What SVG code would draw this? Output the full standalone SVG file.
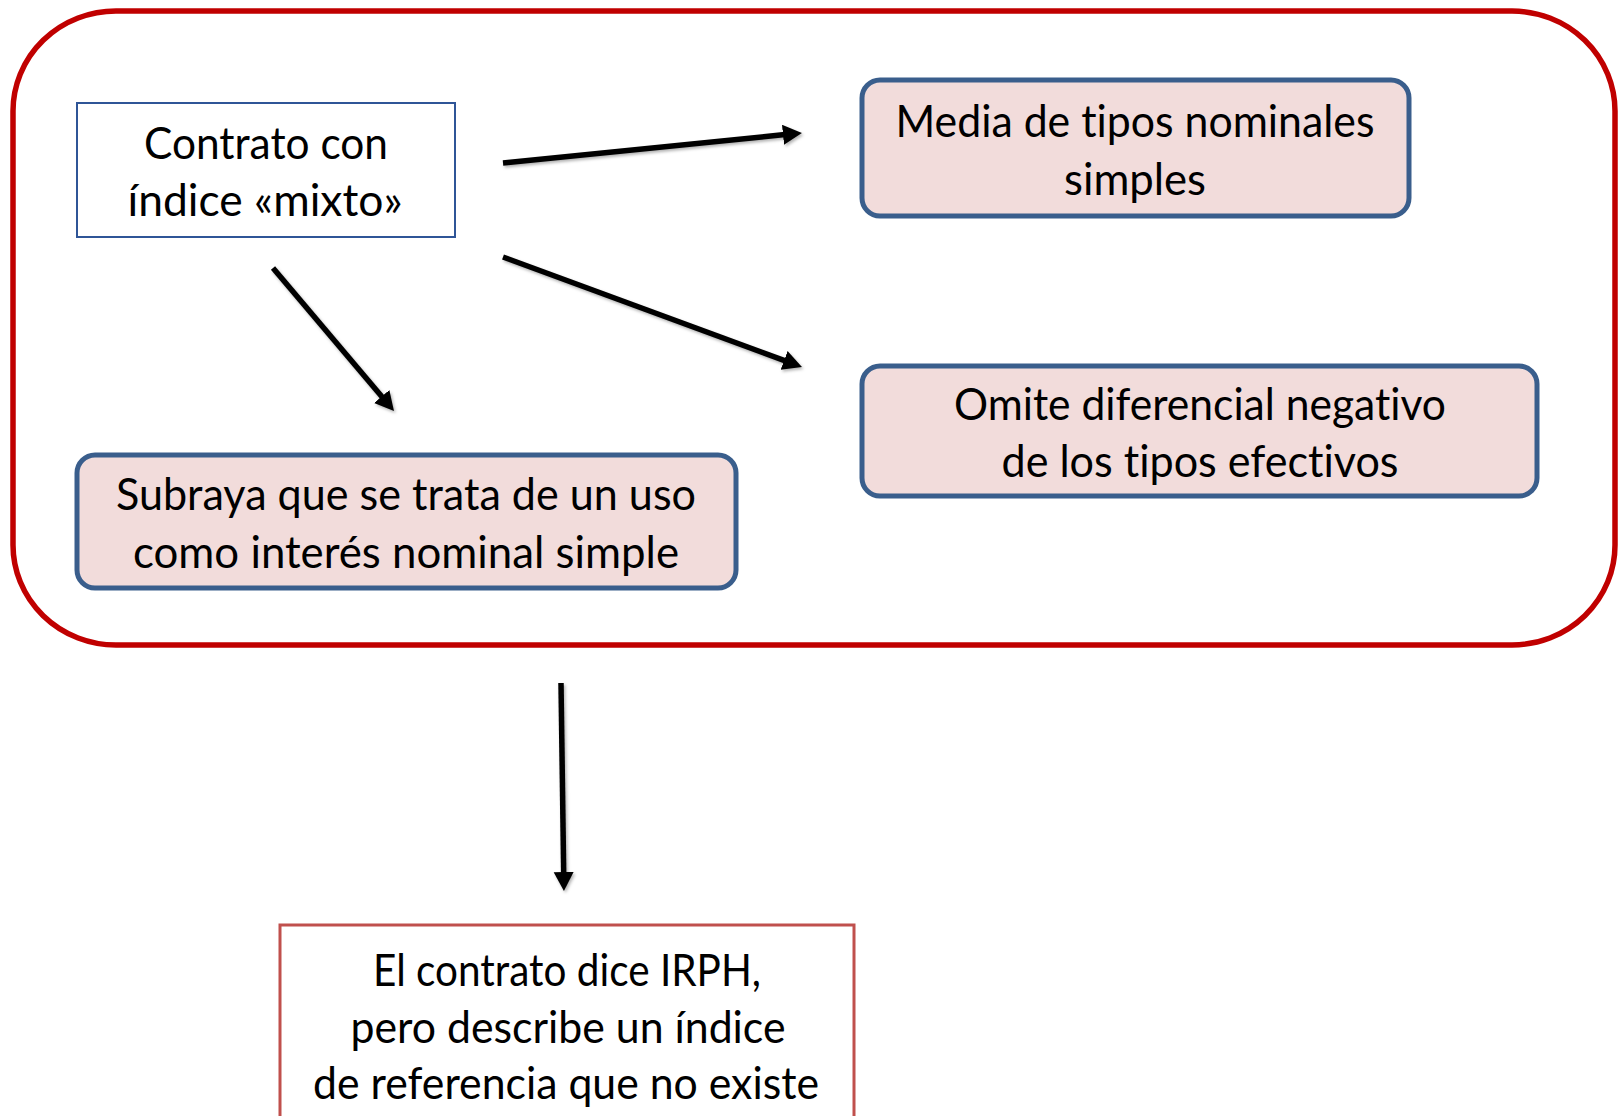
<svg xmlns="http://www.w3.org/2000/svg" width="1618" height="1116" viewBox="0 0 1618 1116">
<style>
.t{font-family:Lato,"Open Sans","Liberation Sans",sans-serif;font-size:44px;fill:#000;text-anchor:middle;font-variant-ligatures:none;font-feature-settings:"liga" 0}
.pink{fill:#F2DCDB;stroke:#3A5E8C;stroke-width:5}
.conn{stroke:#000;stroke-width:5.5;fill:none;marker-end:url(#ah)}
</style>
<defs>
<marker id="ah" markerUnits="userSpaceOnUse" markerWidth="22" markerHeight="22" refX="2" refY="10" orient="auto">
<path d="M0,0 L19,10 L0,20 z" fill="#000"/>
</marker>
<filter id="sh" filterUnits="userSpaceOnUse" x="0" y="0" width="1618" height="1116">
<feDropShadow dx="1.5" dy="2" stdDeviation="1.5" flood-color="#000" flood-opacity="0.3"/>
</filter>
</defs>
<g id="container">
<rect x="13" y="11" width="1602" height="634" rx="103" ry="100" fill="none" stroke="#C00000" stroke-width="5.5"/>
</g>
<g id="n-contrato">
<rect x="77" y="103" width="378" height="134" fill="#fff" stroke="#2F5597" stroke-width="2"/>
<text class="t" x="266" y="159" textLength="244" lengthAdjust="spacingAndGlyphs">Contrato con</text>
<text class="t" x="265" y="216" textLength="275" lengthAdjust="spacingAndGlyphs">índice «mixto»</text>
</g>
<g id="n-media">
<rect class="pink" x="862" y="80" width="547" height="136" rx="18"/>
<text class="t" x="1135" y="137" textLength="479" lengthAdjust="spacingAndGlyphs">Media de tipos nominales</text>
<text class="t" x="1135" y="195" textLength="142" lengthAdjust="spacingAndGlyphs">simples</text>
</g>
<g id="n-omite">
<rect class="pink" x="862" y="366" width="675" height="130" rx="18"/>
<text class="t" x="1200" y="420" textLength="492" lengthAdjust="spacingAndGlyphs">Omite diferencial negativo</text>
<text class="t" x="1200" y="477" textLength="397" lengthAdjust="spacingAndGlyphs">de los tipos efectivos</text>
</g>
<g id="n-subraya">
<rect class="pink" x="77" y="455" width="659" height="133" rx="18"/>
<text class="t" x="406" y="510" textLength="580" lengthAdjust="spacingAndGlyphs">Subraya que se trata de un uso</text>
<text class="t" x="406" y="568" textLength="546" lengthAdjust="spacingAndGlyphs">como interés nominal simple</text>
</g>
<g id="n-irph">
<rect x="280" y="925" width="574" height="220" fill="#fff" stroke="#C0504D" stroke-width="3"/>
<text class="t" x="567" y="986" textLength="388" lengthAdjust="spacingAndGlyphs">El contrato dice IRPH,</text>
<text class="t" x="568" y="1043" textLength="435" lengthAdjust="spacingAndGlyphs">pero describe un índice</text>
<text class="t" x="566" y="1099" textLength="506" lengthAdjust="spacingAndGlyphs">de referencia que no existe</text>
</g>
<g id="connectors" filter="url(#sh)">
<line class="conn" x1="503" y1="163" x2="785" y2="134.6"/>
<line class="conn" x1="503" y1="257" x2="786" y2="361.1"/>
<line class="conn" x1="273" y1="268" x2="383" y2="398"/>
<line class="conn" x1="561" y1="683" x2="563.7" y2="874"/>
</g>
</svg>
